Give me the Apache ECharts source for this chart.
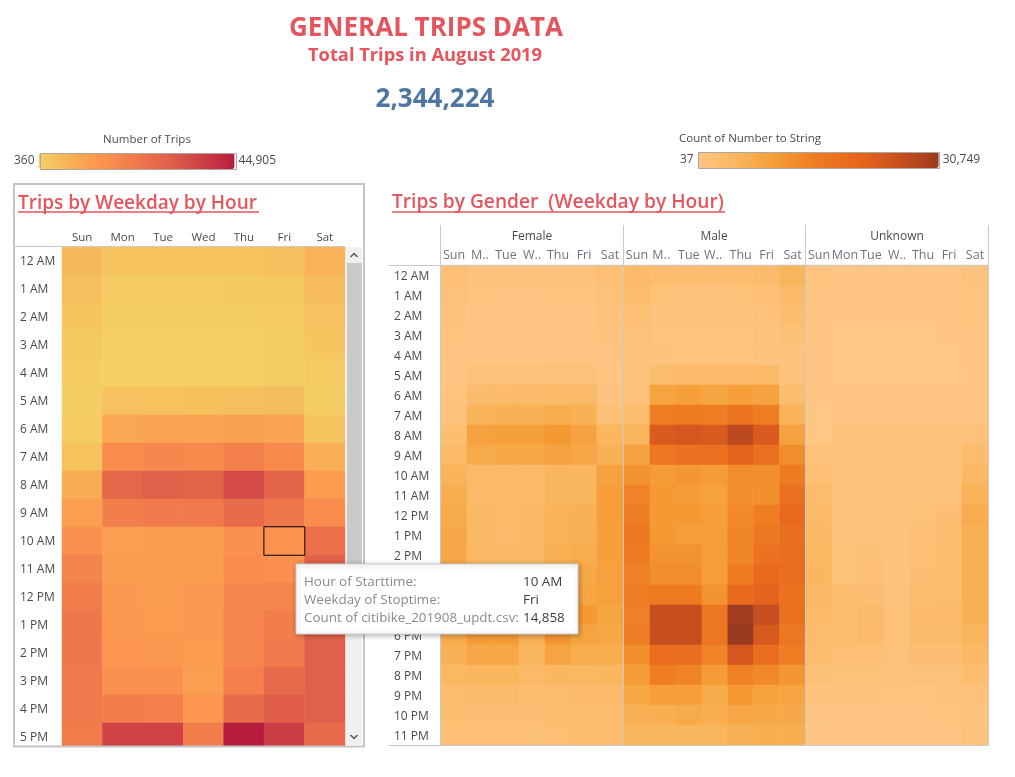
<!DOCTYPE html>
<html><head><meta charset="utf-8">
<style>html,body{margin:0;padding:0;background:#fff}#c{width:1015px;height:777px}</style>
<script src="https://cdn.jsdelivr.net/npm/echarts@6/dist/echarts.min.js"></script></head>
<body><div id="c"></div>
<script>
const weekdays=['Sun','Mon','Tue','Wed','Thu','Fri','Sat'];
const femaleDays=['Sun','M..','Tue','W..','Thu','Fri','Sat'];
const maleDays=['Sun','M.. ','Tue','W.. ','Thu','Fri','Sat'];
const unknownDays=['Sun','Mon','Tue','W..','Thu','Fri','Sat'];
const hours=['12 AM','1 AM','2 AM','3 AM','4 AM','5 AM','6 AM','7 AM','8 AM','9 AM','10 AM','11 AM','12 PM','1 PM','2 PM','3 PM','4 PM','5 PM','6 PM','7 PM','8 PM','9 PM','10 PM','11 PM'];
const visibleHours=hours.slice(0,18);
const tripsByHour=[
[5500,3500,3500,3500,3500,4500,7000],
[4500,2000,2000,2000,2200,2500,5000],
[3000,1200,1000,1000,1100,1500,4000],
[2200,800,800,800,900,1000,3000],
[1500,900,800,800,900,1000,1600],
[1200,4000,3800,4200,4400,4800,1200],
[1500,10000,11000,10500,11500,10500,2800],
[3800,17000,18000,17500,20500,17500,8000],
[8500,28000,30000,29000,35000,28500,13000],
[12000,21000,22000,22000,27000,23000,17000],
[15500,12000,12500,12500,15500,14858,25000],
[19500,12500,12500,12500,16500,16000,29500],
[21500,13500,12500,13500,18000,18500,29000],
[22500,14000,13000,13500,19000,21000,29000],
[22500,14500,14000,13000,19000,22000,30000],
[22000,15500,15500,12000,20500,27000,30000],
[22000,21000,20500,14500,27000,30500,30000],
[21500,36500,37000,21000,44905,38000,27000]];
const femaleTrips=[
[2.0,1.2,1.1,1.1,1.1,1.3,2.0],[1.5,.6,.5,.5,.6,.7,1.6],[1.0,.3,.3,.3,.3,.4,1.2],[.7,.2,.2,.2,.2,.3,.8],[.5,.3,.3,.3,.3,.3,.5],[.4,1.2,1.2,1.3,1.4,1.5,.4],
[.6,3.2,3.4,3.4,3.8,3.6,.8],[1.2,5.6,6,6,6.8,6,1.8],[2.5,8.8,9.2,9.2,10.5,8.8,4.6],[3.8,7.4,7.8,7.8,8.8,8,6],[5.4,3.6,3.8,3.8,4.8,4.6,8.8],[6.8,3.8,3.8,3.8,4.8,5.2,9.6],
[7.4,4,3.6,4,5.4,6,9.6],[7.6,4,3.5,4,5.8,6.2,9.2],[7.6,4.2,4,4,6,7,9.2],[7.6,4.6,4.4,4.4,6,7.6,9],[7.4,5.6,5.4,4.6,7.8,8.4,9],[7.6,10,10,6,11.5,10.5,8.4],
[7.2,10,10,6,11,8.6,8.2],[6,8,8,5,8.6,7,6.8],[4.4,5,5,3.6,4.6,4.4,4.6],[3,3.2,3.2,2.8,3,3.4,3.4],[2.5,2.4,2.4,2.3,2.6,3,3],[2.2,2,2,1.8,2.2,2.8,2.8]];
const maleTrips=[
[3.4,2.8,2.8,2.8,2.8,3.2,5.2],[3,1.6,1.5,1.5,1.6,2.2,3.6],[2.2,.8,.8,.8,.9,1.3,2.8],[1.4,.6,.6,.6,.7,.8,1.8],[.8,.8,.7,.7,.7,.8,1],[.8,3,3.4,3.4,3.4,3.6,.9],
[1.2,8.6,9.4,8.4,9.4,8.8,2.6],[3,15,15.5,15,17,15,5.6],[5.2,23,24,23,27,23,8.8],[8.8,16.5,18,18,21,18,12.5],[11.5,10,11,10,12.5,12,15.5],[14,10.5,10,9,12,12,18],
[15,10.5,10.5,9.5,13,15,19.5],[16,10.5,9.6,9.5,13.5,16,18.5],[15.5,11.5,11.5,9.8,13.5,17.5,18.5],[14.5,12.5,12.5,9.6,15.5,19.5,18.5],[15,15.5,15.5,11.5,19.5,21,17.5],[14.5,26,26,16.5,30.2,26,17.5],
[15,26,26,16.5,30.749,23.5,16.5],[12,19,18.5,14,24,18.5,15],[10,15,14,10,14.5,13,11],[8.2,9.6,9.6,7.4,10.5,9,8.6],[6,6.6,7.4,6.5,8,7.8,7.6],[4.8,5,5,5,6,6.6,6.4]];
const unknownTrips=[
[.6,.3,.3,.3,.3,.3,.8],[.5,.2,.2,.2,.2,.3,.7],[.4,.2,.2,.2,.2,.2,.6],[.3,.1,.1,.1,.1,.2,.4],[.2,.1,.1,.1,.1,.1,.3],[.2,.1,.1,.1,.1,.1,.2],
[.2,.2,.2,.2,.2,.2,.3],[.1,.4,.4,.4,.4,.4,.3],[.1,.8,.8,.9,1,1,1.5],[1.2,.8,.8,1,1,1,3],[2.2,1,1,1,1,1,4],[3,1.2,1.2,1.2,1.2,1.2,5.6],
[3.6,1.4,1.2,1.2,1.6,2.4,7],[4,1.4,1.2,1.2,2,2.6,6],[4.4,1.6,1.8,1.2,2.2,2.8,6.2],[4.6,1.6,2,1,2.4,2.8,6.2],[4.2,2.6,2.4,1.2,2.8,3,6.2],[3.8,2.8,3.2,1.4,3.4,3.4,6],
[3,2.6,3.4,1.6,3.2,3.2,5],[2.6,2.2,2.2,1.4,2.4,2.4,4],[1.8,1.6,1.6,1,1.4,1.4,2.8],[1,.8,.8,.6,.6,1.2,1.4],[.5,.4,.4,.4,.4,.6,1],[.3,.3,.3,.3,.3,.4,.8]];
const panelNames=['Female','Male','Unknown'];
const tripRange=[360,44905], genderRange=[37,30749];
const tripColors=['#F4D166','#F8B055','#FC924E','#EF784B','#E1604A','#CE4045','#B71D3E'];
const genderColors=['#FFC685','#F9B55C','#F59B34','#EE7A22','#E8661D','#C9501F','#9C3A1F'];
const tipKeys=['Hour of Starttime:','Weekday of Stoptime:','Count of citibike_201908_updt.csv:'];
const tipVals=['10 AM','Fri','14,858'];
const selected=[5,10];

const F='"Open Sans","Noto Sans",sans-serif', INK='#4a4a4a', LINE='#c9c9c9', RED='#E4555D';
const cells=t=>t.flatMap((r,y)=>r.map((v,x)=>[x,y,v]));
const kcells=t=>cells(t).map(c=>[c[0],c[1],Math.max(37,Math.round(c[2]*1000))]);
const leftData=cells(tripsByHour).filter(c=>!(c[0]===selected[0]&&c[1]===selected[1])).map(c=>({value:c}));
leftData.push({value:[selected[0],selected[1],tripsByHour[selected[1]][selected[0]]],itemStyle:{borderColor:'#000',borderWidth:1}});

const grids=[{left:62,top:247,width:283,height:504},{left:441,top:265,width:182,height:480},{left:624,top:265,width:181.5,height:480},{left:806,top:265,width:182,height:480}];
const dayLists=[weekdays,femaleDays,maleDays,unknownDays];
const xAxes=grids.map((g,i)=>({type:'category',gridIndex:i,position:'top',data:dayLists[i],axisLine:{show:false},axisTick:{show:false},splitLine:{show:false},
 axisLabel:{interval:0,color:i?'#6d7480':INK,fontFamily:F,fontSize:i?12.5:11.5,margin:3}}));
const yAxes=grids.map((g,i)=>({type:'category',gridIndex:i,inverse:true,data:i?hours:visibleHours,axisLine:{show:false},axisTick:{show:false},splitLine:{show:false},
 axisLabel:{show:i<2,interval:0,align:'left',verticalAlign:'top',lineHeight:i?4:2,color:INK,fontFamily:F,fontSize:12,margin:i?47:42}}));
const heat=(i,data)=>({type:'heatmap',xAxisIndex:i,yAxisIndex:i,data,animation:false,emphasis:{disabled:true},progressive:0,itemStyle:{borderWidth:0}});
const ln=(x1,y1,x2,y2,c,w)=>({type:'line',z:90,shape:{x1,y1,x2,y2},style:{stroke:c||LINE,lineWidth:w||1}});
const tx=(x,y,text,o)=>({type:'text',z:120,x,y,style:Object.assign({text,fontFamily:F,fontSize:12,fill:INK,textVerticalAlign:'middle',verticalAlign:'middle'},o||{})});
const graphic=[
 {type:'rect',z:80,shape:{x:14,y:746,width:349,height:8},style:{fill:'#fff'}},
 {type:'rect',z:85,shape:{x:14,y:184,width:350,height:562.5},style:{fill:'none',stroke:'#c4c4c4',lineWidth:2}},
 ln(15,246.5,345,246.5),
 {type:'rect',z:86,shape:{x:346,y:247,width:16,height:499},style:{fill:'#f0f0f0'}},
 {type:'rect',z:87,shape:{x:347,y:263,width:15,height:335},style:{fill:'#c9c9c9'}},
 {type:'polyline',z:88,shape:{points:[[350.5,257],[354,253.5],[357.5,257]]},style:{stroke:'#555',lineWidth:1.5,fill:'none'}},
 {type:'polyline',z:88,shape:{points:[[350.5,735],[354,738.5],[357.5,735]]},style:{stroke:'#555',lineWidth:1.5,fill:'none'}},
 ln(18,212,259,212,RED,1.5),
 ln(392,212,725,212,RED,1.5),
 tx(18,204,'Trips by Weekday by Hour',{fontSize:19,fontWeight:600,fill:RED}),
 tx(392,203,'Trips by Gender  (Weekday by Hour)',{fontSize:19.2,fontWeight:600,fill:RED}),
 ln(388,265.5,988,265.5), ln(388,745.5,988,745.5),
 ln(440.5,225,440.5,745.5), ln(623.5,225,623.5,745.5), ln(805.5,225,805.5,745.5), ln(988.5,225,988.5,745.5),
 tx(532,237,panelNames[0],{textAlign:'center',align:'center',fontSize:12}),
 tx(714,237,panelNames[1],{textAlign:'center',align:'center',fontSize:12}),
 tx(897,237,panelNames[2],{textAlign:'center',align:'center',fontSize:12}),
 tx(426,29,'GENERAL TRIPS DATA',{textAlign:'center',align:'center',fontSize:26,fontWeight:700,fill:RED}),
 tx(425,56,'Total Trips in August 2019',{textAlign:'center',align:'center',fontSize:18.3,fontWeight:700,fill:RED}),
 tx(435,100,'2,344,224',{textAlign:'center',align:'center',fontSize:26,fontWeight:700,fill:'#4E76A2'}),
 tx(147,140,'Number of Trips',{textAlign:'center',align:'center',fontSize:11.5}),
 tx(750,139,'Count of Number to String',{textAlign:'center',align:'center',fontSize:11.5}),
 {type:'rect',z:95,shape:{x:40.5,y:153.5,width:196,height:16},style:{fill:'none',stroke:'#aaa89e'}},
 {type:'rect',z:95,shape:{x:698.5,y:152.5,width:241,height:16},style:{fill:'none',stroke:'#aaa89e'}},
 {type:'rect',z:110,shape:{x:296,y:564,width:282,height:70},style:{fill:'#fff',stroke:'#d0d0d0',lineWidth:1,shadowBlur:5,shadowOffsetX:1,shadowOffsetY:1,shadowColor:'rgba(0,0,0,.3)'}},
 ...tipKeys.map((k,i)=>tx(304,582+i*18,k,{fill:'#8a8a8a',fontSize:13.4})),
 ...tipVals.map((k,i)=>tx(523,582+i*18,k,{fill:'#3d3d3d',fontSize:13.4}))
];
const chart=echarts.init(document.getElementById('c'),null,{renderer:'canvas',width:1015,height:777});
chart.setOption({animation:false,backgroundColor:'#fff',tooltip:{show:false},grid:grids,xAxis:xAxes,yAxis:yAxes,
 visualMap:[
  {type:'continuous',seriesIndex:[0],dimension:2,min:tripRange[0],max:tripRange[1],inRange:{color:tripColors},orient:'horizontal',left:14,top:153,itemWidth:16,itemHeight:196,padding:0,text:['44,905','360'],textGap:4,textStyle:{color:INK,fontFamily:F,fontSize:12},calculable:false,hoverLink:false},
  {type:'continuous',seriesIndex:[1,2,3],dimension:2,min:genderRange[0],max:genderRange[1],inRange:{color:genderColors},orient:'horizontal',left:680,top:152,itemWidth:16,itemHeight:241,padding:0,text:['30,749','37'],textGap:4,textStyle:{color:INK,fontFamily:F,fontSize:12},calculable:false,hoverLink:false}
 ],
 series:[heat(0,leftData),heat(1,kcells(femaleTrips)),heat(2,kcells(maleTrips)),heat(3,kcells(unknownTrips))],
 graphic:{elements:graphic}});
</script></body></html>
